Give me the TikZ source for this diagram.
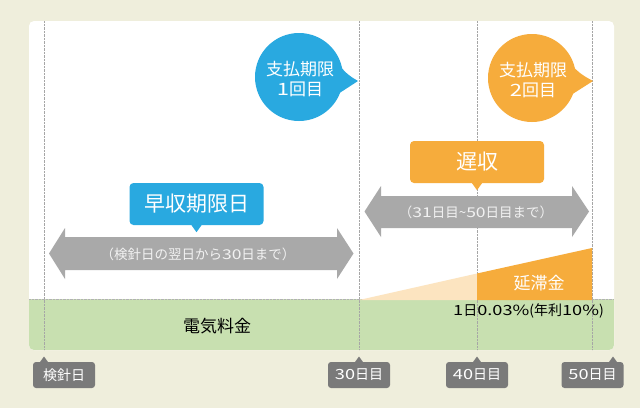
\documentclass[tikz,border=0pt]{standalone}
\usepackage{fontspec}
\newfontfamily\jpfont{Noto Sans CJK JP}
\newfontfamily\jpwide[FakeStretch=1.3]{Noto Sans CJK JP}
\newcommand\wdig[1]{{\jpwide #1}}
\usetikzlibrary{positioning}
\definecolor{bgbeige}{RGB}{239,238,220}
\definecolor{feegreen}{RGB}{200,224,176}
\definecolor{payblue}{RGB}{41,169,224}
\definecolor{payorange}{RGB}{246,172,60}
\definecolor{lightpeach}{RGB}{252,228,192}
\definecolor{arrowgray}{RGB}{169,169,169}
\definecolor{tickgray}{RGB}{122,122,122}

\begin{document}
\begin{tikzpicture}[x=1pt, y=-1pt,
    every node/.style={font=\jpfont, inner sep=0pt},
    tickbox/.style={fill=tickgray, text=white, rounded corners=3pt, minimum width=62pt, minimum height=26pt, font=\jpfont\fontsize{14}{14}\selectfont},
    headbox/.style={text=white, rounded corners=4pt, minimum width=134pt, minimum height=42pt, font=\jpfont\fontsize{21}{21}\selectfont},
    bubbletext/.style={text=white, align=center, font=\jpfont\fontsize{17}{20}\selectfont},
    spantext/.style={text=white!95!black, font=\jpfont\fontsize{13.5}{13.5}\selectfont},
    dayline/.style={densely dotted, gray!70, line width=0.4pt}]
    \useasboundingbox (0,0) rectangle (640,408);
    \fill[bgbeige] (0,0) rectangle (640,408);
    \fill[white, rounded corners=5pt] (29,21) rectangle (614,350);
    \begin{scope}
        \clip[rounded corners=5pt] (29,21) rectangle (614,350);
        \fill[feegreen] (29,299) rectangle (614,350);
    \end{scope}
    \draw[densely dotted, gray!60, line width=0.4pt] (29,299) -- (614,299);
    \foreach \x in {44, 359, 477, 592}
        \draw[dayline] (\x,21) -- (\x,350);

    % late fee wedge
    \fill[lightpeach] (359,300) -- (477,300) -- (477,273.5) -- cycle;
    \fill[payorange] (477,300) -- (592,300) -- (592,248) -- (477,273.5) -- cycle;
    \node[text=white, font=\jpfont\fontsize{17}{17}\selectfont] (latefee) at (539,283) {延滞金};
    \node[font=\jpfont\fontsize{14}{14}\selectfont, anchor=east] (rate) at (604,311) {\wdig{1}日\wdig{0.03\%}(年利\wdig{10\%})};
    \node[font=\jpfont\fontsize{17}{17}\selectfont] (fee) at (217,326) {電気料金};

    % span arrows
    \fill[arrowgray] (49,253.5) -- (65,228) -- (65,237) -- (337,237) -- (337,228) -- (353.5,253.5)
        -- (337,279) -- (337,270) -- (65,270) -- (65,279) -- cycle;
    \node[spantext] (span1) at (198,254) {（検針日の翌日から\wdig{30}日まで）};
    \fill[arrowgray] (364.5,211.5) -- (381,186) -- (381,196) -- (572,196) -- (572,186) -- (589,211.5)
        -- (572,237) -- (572,228) -- (381,228) -- (381,237) -- cycle;
    \node[spantext] (span2) at (476,212) {（\wdig{31}日目\textasciitilde\wdig{50}日目まで）};

    % headings
    \node[headbox, fill=payblue] (early) at (196.5,204) {早収期限日};
    \fill[payblue] ([xshift=-5pt]early.south) -- ++(5,7) -- ++(5,-7) -- cycle;
    \node[headbox, fill=payorange] (late) at (477,162) {遅収};
    \fill[payorange] ([xshift=-5pt]late.south) -- ++(5,7) -- ++(5,-7) -- cycle;

    % speech bubbles
    \fill[payblue] (299,77) circle (44);
    \fill[payblue] (338,64) .. controls (348,75) .. (358,81) -- (338,94) -- cycle;
    \node[bubbletext] (pay1) at (300,79) {支払期限\\\wdig{1}回目};
    \fill[payorange] (532,78) circle (44);
    \fill[payorange] (571,65) .. controls (582,75) .. (593,81) -- (571,95) -- cycle;
    \node[bubbletext] (pay2) at (533,80) {支払期限\\\wdig{2}回目};

    % day marks
    \node[tickbox] (d0) at (64,375) {検針日};
    \fill[tickgray] (40,362) -- (44,356.5) -- (48,362) -- cycle;
    \node[tickbox] (d30) at (359,375) {\wdig{30}日目};
    \fill[tickgray] (355,362) -- (359,356.5) -- (363,362) -- cycle;
    \node[tickbox] (d40) at (477,375) {\wdig{40}日目};
    \fill[tickgray] (473,362) -- (477,356.5) -- (481,362) -- cycle;
    \node[tickbox] (d50) at (592.5,375) {\wdig{50}日目};
    \fill[tickgray] (609,362) -- (613,356.5) -- (617,362) -- cycle;
\end{tikzpicture}
\end{document}
